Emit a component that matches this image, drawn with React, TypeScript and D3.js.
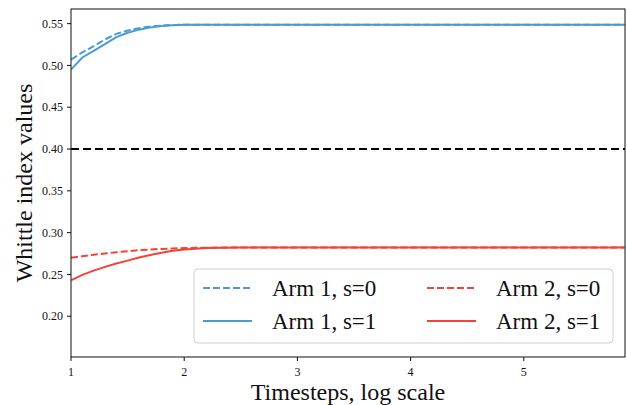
import React from "react";
import * as d3 from "d3";

const xs = [1, 1.1, 1.2, 1.3, 1.4, 1.5, 1.6, 1.7, 1.8, 1.9, 2.0, 2.2, 2.5, 3, 4, 5, 5.89];
const arm1s0 = [0.507, 0.5155, 0.523, 0.531, 0.5378, 0.5418, 0.5445, 0.5465, 0.5477, 0.5484, 0.5487, 0.5488, 0.5488, 0.5488, 0.5488, 0.5488, 0.5488];
const arm1s1 = [0.495, 0.5095, 0.5175, 0.5255, 0.5338, 0.539, 0.5428, 0.5455, 0.5472, 0.5482, 0.5486, 0.5488, 0.5488, 0.5488, 0.5488, 0.5488, 0.5488];
const arm2s0 = [0.270, 0.2718, 0.2735, 0.275, 0.2765, 0.2778, 0.279, 0.2798, 0.2805, 0.2811, 0.2815, 0.282, 0.2822, 0.2822, 0.2822, 0.2822, 0.2822];
const arm2s1 = [0.243, 0.2495, 0.2545, 0.259, 0.263, 0.2665, 0.2702, 0.2733, 0.276, 0.2782, 0.2798, 0.2815, 0.2821, 0.2822, 0.2822, 0.2822, 0.2822];
const threshold = 0.40;
const xTicks = [1, 2, 3, 4, 5];
const yTicks = [0.20, 0.25, 0.30, 0.35, 0.40, 0.45, 0.50, 0.55];

const BLUE = "#4a9bd4";
const RED = "#f44336";
const FONT = "'Liberation Serif', 'Times New Roman', serif";

const series = [
  { name: "Arm 1, s=0", values: arm1s0, color: BLUE, dash: "7,3" },
  { name: "Arm 1, s=1", values: arm1s1, color: BLUE, dash: "" },
  { name: "Arm 2, s=0", values: arm2s0, color: RED, dash: "7,3" },
  { name: "Arm 2, s=1", values: arm2s1, color: RED, dash: "" },
];

export default function App() {
  const W = 627, H = 405;
  const L = 71, R = 625, T = 9, B = 357;
  const x = d3.scaleLinear().domain([1, 5.894]).range([L, R]);
  const y = d3.scaleLinear().domain([0.1512, 0.5675]).range([B, T]);
  const line = d3.line<number>().x((_, i) => x(xs[i])).y((d) => y(d));

  const legendRows = [
    { s: series[0], col: 0, row: 0 },
    { s: series[1], col: 0, row: 1 },
    { s: series[2], col: 1, row: 0 },
    { s: series[3], col: 1, row: 1 },
  ];
  const colX = [203, 427];
  const rowY = [288, 321];

  return (
    <svg width={W} height={H} style={{ position: "absolute", left: 0, top: 0, background: "#fff" }} fontFamily={FONT}>
      <rect x={0} y={0} width={W} height={H} fill="#fff" />
      <defs>
        <clipPath id="plot">
          <rect x={L} y={T} width={R - L} height={B - T} />
        </clipPath>
      </defs>
      <g clipPath="url(#plot)">
        <line x1={L} x2={R} y1={y(threshold)} y2={y(threshold)} stroke="#000" strokeWidth={2} strokeDasharray="8,4" />
        {series.map((s) => (
          <path key={s.name} d={line(s.values) || ""} fill="none" stroke={s.color} strokeWidth={2} strokeDasharray={s.dash || undefined} />
        ))}
      </g>
      <rect x={L} y={T} width={R - L} height={B - T} fill="none" stroke="#111" strokeWidth={1} />
      {xTicks.map((t) => (
        <g key={"x" + t}>
          <line x1={x(t)} x2={x(t)} y1={B} y2={B + 4} stroke="#111" />
          <text x={x(t)} y={376} textAnchor="middle" fontSize={12} fill="#111">{t}</text>
        </g>
      ))}
      {yTicks.map((t) => (
        <g key={"y" + t}>
          <line x1={L - 4} x2={L} y1={y(t)} y2={y(t)} stroke="#111" />
          <text x={L - 8} y={y(t)} dy="0.35em" textAnchor="end" fontSize={12} fill="#111">{t.toFixed(2)}</text>
        </g>
      ))}
      <text x={(L + R) / 2} y={400} textAnchor="middle" fontSize={24} fill="#111">Timesteps, log scale</text>
      <text transform={`translate(32, ${(T + B) / 2}) rotate(-90)`} textAnchor="middle" fontSize={24} fill="#111">Whittle index values</text>
      <rect x={194} y={269} width={419} height={74} rx={4} fill="#fff" fillOpacity={0.8} stroke="#d0d0d0" strokeWidth={1} />
      {legendRows.map(({ s, col, row }) => (
        <g key={"lg" + s.name}>
          <line x1={colX[col]} x2={colX[col] + 49} y1={rowY[row]} y2={rowY[row]} stroke={s.color} strokeWidth={2} strokeDasharray={s.dash || undefined} />
          <text x={colX[col] + 69} y={rowY[row]} dy="0.35em" fontSize={23} fill="#111">{s.name}</text>
        </g>
      ))}
    </svg>
  );
}
